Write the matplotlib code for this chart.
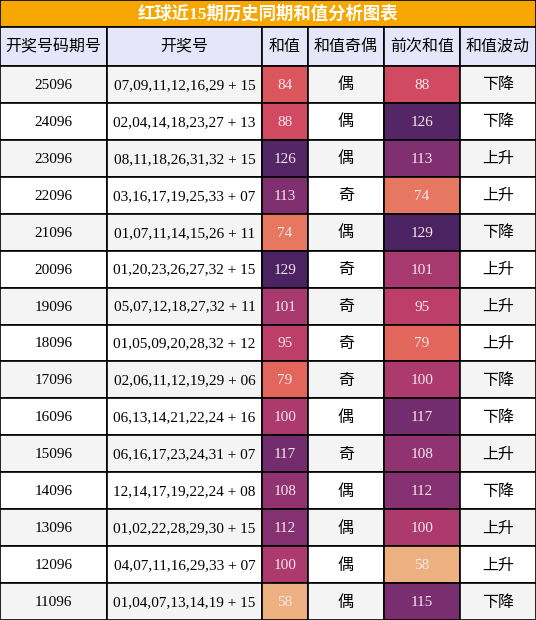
import numpy as np
import matplotlib
matplotlib.use('Agg')
import matplotlib.pyplot as plt
import seaborn as sns
from matplotlib.patches import Rectangle

title = '红球近15期历史同期和值分析图表'
headers = ['开奖号码期号', '开奖号', '和值', '和值奇偶', '前次和值', '和值波动']
periods = ['25096', '24096', '23096', '22096', '21096', '20096', '19096', '18096',
           '17096', '16096', '15096', '14096', '13096', '12096', '11096']
draws = ['07,09,11,12,16,29 + 15', '02,04,14,18,23,27 + 13', '08,11,18,26,31,32 + 15',
         '03,16,17,19,25,33 + 07', '01,07,11,14,15,26 + 11', '01,20,23,26,27,32 + 15',
         '05,07,12,18,27,32 + 11', '01,05,09,20,28,32 + 12', '02,06,11,12,19,29 + 06',
         '06,13,14,21,22,24 + 16', '06,16,17,23,24,31 + 07', '12,14,17,19,22,24 + 08',
         '01,02,22,28,29,30 + 15', '04,07,11,16,29,33 + 07', '01,04,07,13,14,19 + 15']
sums = [84, 88, 126, 113, 74, 129, 101, 95, 79, 100, 117, 108, 112, 100, 58]
parity = ['偶', '偶', '偶', '奇', '偶', '奇', '奇', '奇', '奇', '偶', '奇', '偶', '偶', '偶', '偶']
prev_sums = [88, 126, 113, 74, 129, 101, 95, 79, 100, 117, 108, 112, 100, 58, 115]
trend = ['下降', '下降', '上升', '上升', '下降', '上升', '上升', '上升', '下降', '下降',
         '上升', '下降', '上升', '上升', '下降']

W, H = 536, 620
col_x = [0, 107, 262, 308, 384, 460, 536]
title_h, head_h = 27, 39
row_h = (H - title_h - head_h) / len(periods)

cmap = sns.color_palette('flare', as_cmap=True)
norm = plt.Normalize(min(sums + prev_sums), max(sums + prev_sums))
fam = ['Liberation Serif', 'Noto Sans CJK SC', 'DejaVu Sans']

fig = plt.figure(figsize=(W / 100, H / 100), dpi=100)
ax = fig.add_axes([0, 0, 1, 1])
ax.set_xlim(0, W); ax.set_ylim(H, 0); ax.axis('off')

ax.add_patch(Rectangle((0, 0), W, title_h, fc='#f7a600', ec='black', lw=1.2))
ax.text(W / 2, title_h / 2, title, ha='center', va='center', color='white',
        fontsize=12.5, fontweight='bold', family=fam)

y0 = title_h
for i, h in enumerate(headers):
    ax.add_patch(Rectangle((col_x[i], y0), col_x[i + 1] - col_x[i], head_h,
                           fc='#e6e6fa', ec='black', lw=1.2))
    ax.text((col_x[i] + col_x[i + 1]) / 2, y0 + head_h / 2, h, ha='center',
            va='center', fontsize=11.5, family=fam)

for r in range(len(periods)):
    y = title_h + head_h + r * row_h
    bg = '#f4f4f4' if r % 2 == 0 else 'white'
    vals = [periods[r], draws[r], str(sums[r]), parity[r], str(prev_sums[r]), trend[r]]
    for c, v in enumerate(vals):
        fc = bg
        tc = 'black'
        if c == 2:
            fc = cmap(norm(sums[r])); tc = '#f5e6ea'
        elif c == 4:
            fc = cmap(norm(prev_sums[r])); tc = '#f5e6ea'
        ax.add_patch(Rectangle((col_x[c], y), col_x[c + 1] - col_x[c], row_h,
                               fc=fc, ec='black', lw=1.2))
        ax.text((col_x[c] + col_x[c + 1]) / 2, y + row_h / 2 + 1, v, ha='center',
                va='center', fontsize=11.5 if c in (3, 5) else 11, color=tc, family=fam)

fig.savefig('out.png', dpi=100)
